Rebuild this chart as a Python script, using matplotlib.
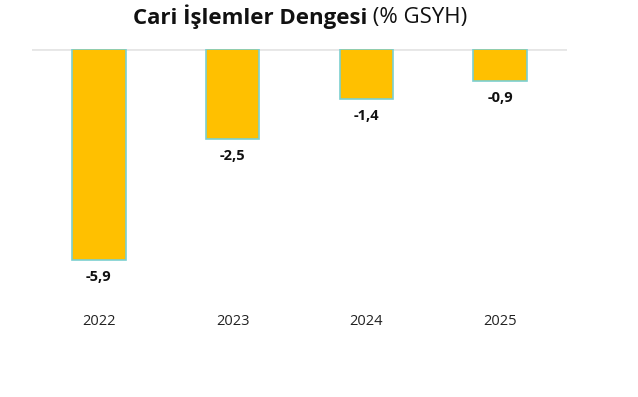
import matplotlib.pyplot as plt

years = ["2022", "2023", "2024", "2025"]
values = [-5.9, -2.5, -1.4, -0.9]
value_labels = ["-5,9", "-2,5", "-1,4", "-0,9"]

plt.rcParams["font.family"] = ["Open Sans", "DejaVu Sans"]

fig = plt.figure(figsize=(6.38, 3.97), dpi=100)
ax = fig.add_axes([32 / 638, 1 - 305 / 397, 535 / 638, (305 - 49) / 397])

x = range(len(years))
ax.bar(x, values, width=0.40, color="#FFC000", edgecolor="#7CCFD0", linewidth=1.2, zorder=2)
ax.axhline(0, color="#E6E6E6", linewidth=2, zorder=1)

for i, v in enumerate(values):
    ax.annotate(value_labels[i], (i, v), xytext=(0, -17), textcoords="offset pixels",
                ha="center", va="center", fontsize=10.5, fontweight="bold", color="#111111")

ax.set_xlim(-0.5, len(years) - 0.5)
ax.set_ylim(-256 / 35.8, 0)
ax.set_xticks(list(x))
ax.set_xticklabels(years, fontsize=10.5, color="#222222")
ax.tick_params(axis="x", length=0, pad=6.5)
ax.set_yticks([])
for s in ax.spines.values():
    s.set_visible(False)

# title: bold part + regular part, centered together
fig.canvas.draw()
r = fig.canvas.get_renderer()
t1 = fig.text(0, 1 - 17 / 397, "Cari İşlemler Dengesi", fontsize=16, fontweight="bold",
              va="center", ha="left", color="#111111")
t2 = fig.text(0, 1 - 17 / 397, " (% GSYH)", fontsize=16, va="center", ha="left", color="#111111")
w1 = t1.get_window_extent(r).width
w2 = t2.get_window_extent(r).width
start = 300 - (w1 + w2) / 2
t1.set_x(start / 638)
t2.set_x((start + w1) / 638)

fig.savefig("out.png", dpi=100, facecolor="white")
